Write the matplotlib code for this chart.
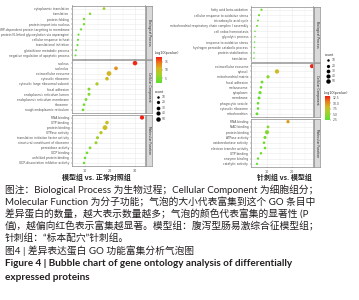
import matplotlib
matplotlib.use("Agg")
import matplotlib.pyplot as plt
import numpy as np
from matplotlib.colors import LinearSegmentedColormap, Normalize
from matplotlib.colorbar import ColorbarBase

# ---------------- data ----------------
facets = ["Biological Process", "Cellular Component", "Molecular Function"]

# Left chart: model vs control
L_bp_terms = ["cytoplasmic translation", "translation", "protein folding",
              "protein import into nucleus",
              "SRP-dependent protein targeting to membrane",
              "protein N-linked glycosylation via asparagine",
              "cellular response to heat", "translational initiation",
              "glutathione metabolic process",
              "negative regulation of apoptotic process"]
L_bp_x = [17.6, 12.0, 9.6, 9.6, 8.4, 7.4, 7.2, 7.0, 6.4, 6.2]
L_bp_count = [14, 10, 9, 9, 8, 7, 7, 7, 6, 6]
L_bp_logp = [7.0, 5.2, 4.0, 3.8, 3.2, 3.0, 2.8, 2.7, 2.5, 2.4]

L_cc_terms = ["nucleus", "nucleolus", "extracellular exosome", "cytosolic ribosome",
              "cytosolic large ribosomal subunit", "focal adhesion",
              "endoplasmic reticulum lumen", "endoplasmic reticulum membrane",
              "ribosome", "rough endoplasmic reticulum"]
L_cc_x = [30.0, 22.4, 19.6, 18.8, 14.8, 11.6, 11.6, 10.4, 9.6, 9.2]
L_cc_count = [52, 30, 58, 28, 22, 16, 16, 14, 12, 12]
L_cc_logp = [17.5, 13.0, 11.0, 10.5, 8.0, 5.0, 5.0, 4.0, 3.5, 3.2]

L_mf_terms = ["RNA binding", "GTP binding", "protein binding", "GTPase activity",
              "translation initiation factor activity",
              "structural constituent of ribosome", "peroxidase activity",
              "GDP binding", "unfolded protein binding", "GDP-dissociation inhibitor activity"]
L_mf_x = [32.8, 18.8, 18.0, 16.4, 15.0, 14.4, 12.0, 10.8, 10.0, 9.6]
L_mf_count = [42, 28, 60, 22, 18, 17, 13, 12, 11, 10]
L_mf_logp = [17.8, 10.0, 10.2, 9.0, 7.0, 6.2, 4.5, 3.6, 3.0, 2.8]

# Right chart: acupuncture vs model
R_bp_terms = ["fatty acid beta-oxidation", "cellular response to oxidative stress",
              "tricarboxylic acid cycle",
              "mitochondrial respiratory chain complex I assembly",
              "cell redox homeostasis", "glycolytic process",
              "response to oxidative stress", "hydrogen peroxide catabolic process",
              "protein stabilization", "translation"]
R_bp_x = [7.8, 6.8, 6.4, 6.0, 5.2, 5.2, 5.0, 5.0, 4.8, 4.8]
R_bp_count = [8, 7, 6, 6, 5, 5, 5, 5, 5, 5]
R_bp_logp = [3.5, 3.2, 3.0, 2.9, 2.7, 2.7, 2.6, 2.6, 2.5, 2.5]

R_cc_terms = ["extracellular exosome", "cytosol", "mitochondrial matrix",
              "focal adhesion", "melanosome", "cytoplasm", "membrane",
              "phagocytic vesicle", "cytosolic ribosome", "mitochondrion"]
R_cc_x = [28.0, 14.0, 10.4, 8.0, 7.6, 7.2, 6.8, 6.4, 6.4, 6.0]
R_cc_count = [40, 46, 20, 14, 12, 20, 15, 12, 11, 14]
R_cc_logp = [13.0, 8.0, 4.5, 3.5, 3.3, 3.2, 3.0, 2.9, 2.8, 2.7]

R_mf_terms = ["RNA binding", "NAD binding", "protein binding", "ATPase activity",
              "oxidoreductase activity", "electron transfer activity",
              "GTP binding", "enzyme binding", "catalytic activity"]
R_mf_x = [18.4, 10.4, 10.0, 9.2, 8.8, 9.2, 7.6, 6.4, 6.0]
R_mf_count = [22, 14, 40, 18, 12, 12, 10, 9, 8]
R_mf_logp = [9.5, 4.5, 4.3, 3.8, 3.6, 3.7, 3.2, 3.0, 2.7]

L_xticks = [10, 20, 30]
R_xticks = [10, 20]
L_cbar_ticks = [5, 10, 15]
R_cbar_ticks = [2.5, 5.0, 7.5, 10.0, 12.5]
count_breaks = [10, 20, 30, 40, 50]

L_title = "模型组 vs. 正常对照组"
R_title = "针刺组 vs. 模型组"

caption_lines = [
    "图注：Biological Process 为生物过程；Cellular Component 为细胞组分；",
    "Molecular Function 为分子功能；气泡的大小代表富集到这个 GO 条目中",
    "差异蛋白的数量，越大表示数量越多；气泡的颜色代表富集的显著性 (P",
    "值)，越偏向红色表示富集越显著。模型组：腹泻型肠易激综合征模型组；",
    "针刺组：“标本配穴”针刺组。",
]
fig_title_cn = "图4 | 差异表达蛋白 GO 功能富集分析气泡图"
fig_title_en = ["Figure 4 | Bubble chart of gene ontology analysis of differentially",
                "expressed proteins"]

# ---------------- figure ----------------
W, H = 359, 300
fig = plt.figure(figsize=(W / 100, H / 100), dpi=100)
fig.patch.set_facecolor("white")

def ax_px(x0, y0, x1, y1):
    return fig.add_axes([x0 / W, 1 - y1 / H, (x1 - x0) / W, (y1 - y0) / H])

cmap = LinearSegmentedColormap.from_list(
    "gr", [(0, "#5ce032"), (0.35, "#a9d02a"), (0.55, "#d2b923"),
           (0.78, "#ec7a1c"), (1, "#f01c14")])

def diam(c):
    c = np.asarray(c, float)
    return 1.5 + 3.3 * np.sqrt(np.clip((c - 5) / 55.0, 0, 1))

def sz(c):
    return (diam(c) * 0.72) ** 2

def panel(box, strip_box, terms, xs, counts, logp, norm, xlim, xticks, facet, show_x):
    ax = ax_px(*box)
    n = len(terms)
    ypos = np.arange(n)[::-1]
    for v in np.arange(0, 40, 5):
        if xlim[0] < v < xlim[1]:
            ax.axvline(v, color="#ebebeb", lw=0.4 if v % 10 == 0 else 0.25, zorder=0)
    for yv in ypos:
        ax.axhline(yv, color="#ebebeb", lw=0.4, zorder=0)
    ax.scatter(xs, ypos, s=sz(counts), c=logp, cmap=cmap, norm=norm,
               linewidths=0, zorder=3)
    ax.set_xlim(*xlim)
    ax.set_ylim(-0.6, n - 0.4)
    ax.set_yticks(ypos)
    ax.set_yticklabels(terms, fontsize=2.2, color="#4d4d4d")
    ax.set_xticks(xticks)
    if show_x:
        ax.set_xticklabels([str(t) for t in xticks], fontsize=2.4, color="#4d4d4d")
    else:
        ax.set_xticklabels([])
    ax.tick_params(length=1, width=0.3, pad=1, color="#555555")
    for sp in ax.spines.values():
        sp.set_color("#8a8a8a")
        sp.set_linewidth(0.5)
    st = ax_px(*strip_box)
    st.set_facecolor("#d9d9d9")
    st.set_xticks([]); st.set_yticks([])
    for sp in st.spines.values():
        sp.set_color("#8a8a8a"); sp.set_linewidth(0.5)
    st.text(0.5, 0.5, facet, rotation=-90, ha="center", va="center",
            fontsize=2.2, color="#1a1a1a", transform=st.transAxes)
    return ax

# Left chart
Lnorm = Normalize(2, 18)
Lxlim = (4.8, 34.0)
Lboxes = [(72, 5.5, 145, 58.5), (72, 60, 145, 113), (72, 114.5, 145, 166)]
Ldata = [(L_bp_terms, L_bp_x, L_bp_count, L_bp_logp),
         (L_cc_terms, L_cc_x, L_cc_count, L_cc_logp),
         (L_mf_terms, L_mf_x, L_mf_count, L_mf_logp)]
for i, (b, d) in enumerate(zip(Lboxes, Ldata)):
    panel(b, (145.5, b[1], 152, b[3]), *d, Lnorm, Lxlim, L_xticks, facets[i], i == 2)

# Right chart
Rnorm = Normalize(2.4, 13.2)
Rxlim = (3.6, 28.4)
Rboxes = [(251, 6.5, 313, 61.5), (251, 63, 313, 117), (251, 118.5, 313, 167)]
Rdata = [(R_bp_terms, R_bp_x, R_bp_count, R_bp_logp),
         (R_cc_terms, R_cc_x, R_cc_count, R_cc_logp),
         (R_mf_terms, R_mf_x, R_mf_count, R_mf_logp)]
for i, (b, d) in enumerate(zip(Rboxes, Rdata)):
    panel(b, (313.5, b[1], 320, b[3]), *d, Rnorm, Rxlim, R_xticks, facets[i], i == 2)

# Legends
def colorbar(box, norm, ticks, title_xy):
    cax = ax_px(*box)
    cb = ColorbarBase(cax, cmap=cmap, norm=norm, orientation="vertical", ticks=ticks)
    cb.outline.set_visible(False)
    cax.tick_params(labelsize=2.2, length=0.8, width=0.3, pad=1, colors="#4d4d4d")
    fig.text(title_xy[0] / W, 1 - title_xy[1] / H, "-log10(pvalue)", fontsize=2.4,
             color="#333333", ha="left", va="center")

def count_legend(x, y_title, ys):
    fig.text(x / W, 1 - y_title / H, "count", fontsize=2.4, color="#333333",
             ha="left", va="center")
    lax = ax_px(0, 0, W, H)
    lax.set_xlim(0, W); lax.set_ylim(H, 0); lax.axis("off")
    lax.patch.set_alpha(0)
    for c, yy in zip(count_breaks, ys):
        lax.scatter([x + 3], [yy], s=sz(c), color="black", linewidths=0)
        lax.text(x + 7, yy, str(c), fontsize=2.2, color="#4d4d4d", va="center")

colorbar((156, 57, 162, 83), Lnorm, L_cbar_ticks, (155, 53))
count_legend(155, 92, [97, 102, 108, 113, 119])
count_legend(325, 55, [60, 66, 71, 76, 81])
colorbar((325, 96, 330, 120), Rnorm, R_cbar_ticks, (324, 93))

# Chart titles
fig.text(96 / W, 1 - 177 / H, L_title, fontsize=5.0, ha="center", va="center",
         family=["Noto Sans CJK SC", "DejaVu Sans"], color="#222222", weight="bold")
fig.text(284 / W, 1 - 177 / H, R_title, fontsize=5.0, ha="center", va="center",
         family=["Noto Sans CJK SC", "DejaVu Sans"], color="#222222", weight="bold")

# Caption
fam = ["Lato", "Noto Sans CJK SC", "DejaVu Sans"]
ys = [190, 202, 214, 226, 238]
for line, yy in zip(caption_lines, ys):
    fig.text(5 / W, 1 - yy / H, line, fontsize=7.0, family=fam, color="#231f20",
             ha="left", va="center")
fig.text(5 / W, 1 - 251 / H, fig_title_cn, fontsize=7.0, family=fam, color="#231f20",
         ha="left", va="center")
for line, yy in zip(fig_title_en, [264, 277]):
    fig.text(5 / W, 1 - yy / H, line, fontsize=7.2, family=fam, color="#231f20",
             ha="left", va="center", weight="bold")

fig.savefig("out.png", dpi=100)
